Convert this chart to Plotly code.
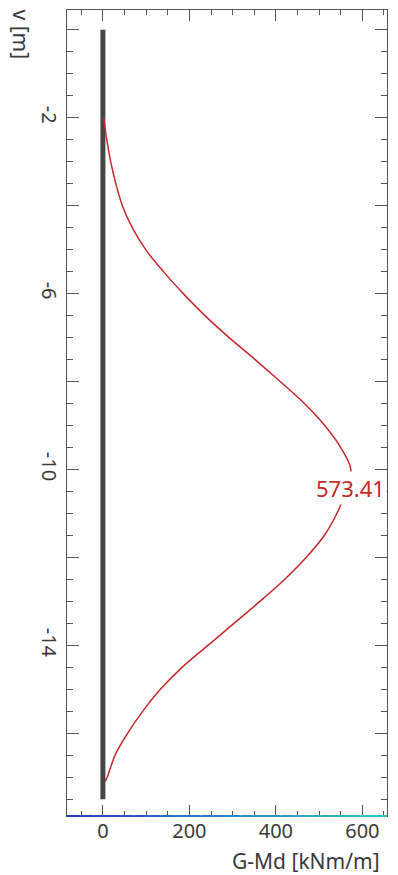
import plotly.graph_objects as go

# Pile axis (depth v in metres) and design bending moment G-Md along it
pile_top = 0.0
pile_toe = -17.5

depth = [-2.0, -2.5, -3.0, -3.5, -4.0, -4.5, -5.0, -5.5, -6.0, -6.5, -7.0, -7.5,
         -8.0, -8.5, -9.0, -9.5, -10.0, -10.5, -11.0, -11.5, -12.0, -12.5, -13.0,
         -13.5, -14.0, -14.5, -15.0, -15.5, -16.0, -16.5, -17.0, -17.1]
moment = [2, 9, 18, 30, 45, 68, 99, 140, 186, 236, 292, 352,
          410, 466, 513, 550, 573.41, 562, 541, 512, 470, 420, 363,
          303, 243, 183, 133, 92, 57, 28, 10, 5]

peak_idx = moment.index(max(moment))
peak_value = moment[peak_idx]
peak_depth = depth[peak_idx]

y_tickvals = [0, -2, -4, -6, -8, -10, -12, -14, -16]
y_ticktext = ["", "-2", "", "-6", "", "-10", "", "-14", ""]
x_tickvals = [0, 200, 400, 600]
x_ticktext = ["0", "200", "400", "600"]

FONT = "Noto Sans"
TXT = "#3a3a3a"
RED = "#c6292b"

fig = go.Figure()

# pile shaft
fig.add_trace(go.Scatter(
    x=[0, 0], y=[pile_top, pile_toe], mode="lines",
    line=dict(color="#454545", width=5), hoverinfo="skip", showlegend=False))

# moment curve
fig.add_trace(go.Scatter(
    x=moment, y=depth, mode="lines", line_shape="spline",
    line=dict(color=RED, width=1.5), showlegend=False))

# peak value label
fig.add_annotation(
    x=peak_value, y=peak_depth, text=f"{peak_value:.2f}", showarrow=False,
    yshift=-18, xanchor="center", yanchor="middle", bgcolor="white",
    font=dict(family=FONT, size=22, color=RED))

# axis titles
fig.add_annotation(
    xref="paper", yref="paper", x=-0.145, y=0.97, text="v [m]", showarrow=False,
    textangle=90, xanchor="center", yanchor="middle",
    font=dict(family=FONT, size=21, color=TXT))
fig.add_annotation(
    xref="paper", yref="paper", x=0.985, y=-0.036, text="G-Md [kNm/m]",
    showarrow=False, xanchor="right", yanchor="top",
    font=dict(family=FONT, size=21, color=TXT))

# bottom frame edge drawn as a blue-to-teal gradient
n_seg = 24
c0 = (40, 60, 200)
c1 = (50, 200, 200)
for i in range(n_seg):
    t = i / (n_seg - 1)
    col = tuple(int(round(a + (b - a) * t)) for a, b in zip(c0, c1))
    fig.add_shape(type="line", xref="paper", yref="paper",
                  x0=i / n_seg, x1=(i + 1) / n_seg, y0=0, y1=0,
                  line=dict(color=f"rgb{col}", width=2), layer="above")

fig.update_xaxes(
    range=[-83, 657], tickvals=x_tickvals, ticktext=x_ticktext,
    ticks="inside", ticklen=11, tickwidth=1, tickcolor="#555",
    showline=True, linecolor="#555", linewidth=1, mirror="ticks",
    showgrid=False, zeroline=False, ticklabelstandoff=-3,
    minor=dict(dtick=50, tick0=0, ticks="inside", ticklen=5, tickcolor="#555", showgrid=False),
    tickfont=dict(family=FONT, size=20, color=TXT))

fig.update_yaxes(
    range=[-17.88, 0.45], tickvals=y_tickvals, ticktext=y_ticktext,
    ticks="inside", ticklen=12, tickwidth=1, tickcolor="#555",
    showline=True, linecolor="#555", linewidth=1, mirror="ticks",
    showgrid=False, zeroline=False, tickangle=90,
    minor=dict(dtick=0.5, tick0=0, ticks="inside", ticklen=6, tickcolor="#555", showgrid=False),
    tickfont=dict(family=FONT, size=20, color=TXT))

fig.update_layout(
    width=398, height=875,
    margin=dict(l=67, r=11, t=10, b=59),
    paper_bgcolor="white", plot_bgcolor="white",
    showlegend=False)

fig.write_html("out.html")
